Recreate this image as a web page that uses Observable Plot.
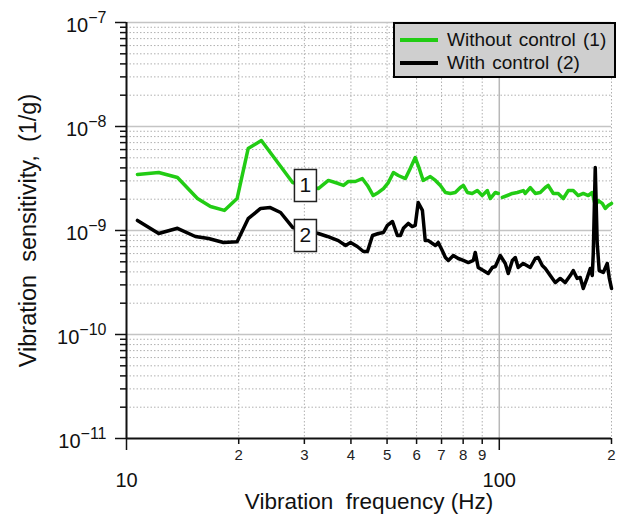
<!DOCTYPE html>
<html>
<head>
<meta charset="utf-8">
<script src="https://cdn.jsdelivr.net/npm/d3@7"></script>
<script src="https://cdn.jsdelivr.net/npm/@observablehq/plot@0.6"></script>
<style>
  html, body { margin: 0; padding: 0; background: #fff; }
  #wrap { position: relative; width: 621px; height: 517px; font-family: "Liberation Sans", Arial, sans-serif; }
  #wrap svg { position: absolute; left: 0; top: 0; }
  #legend { position: absolute; left: 393px; top: 22px; width: 219px; height: 52px;
            background: #cfcfcf; border: 2px solid #000; }
  .lg-row { position: absolute; left: 5px; height: 20px; display: flex; align-items: center;
            font-size: 19px; color: #111; white-space: nowrap; word-spacing: 2px; }
  .lg-sw { width: 38px; height: 3.5px; margin-right: 9px; }
</style>
</head>
<body>
<div id="wrap"><div id="chart"></div><div id="legend"></div></div>
<script>
// ---- data ----
// frequency in Hz, sensitivity in units of 1e-9 (1/g)
const freqWithout = [10.7,12.2,13.7,15.5,16.8,18.3,19.8,21.2,23.0,27.9,
  32.7,34.8,37.0,38.2,39.4,41.1,42.9,44.3,45.9,47.4,
  48.9,50.4,52.0,53.6,56.0,57.7,59.5,61.0,62.5,65.3,
  67.4,69.5,71.7,73.9,76.2,78.6,80.1,82.1,84.6,87.3,
  90.0,92.9,94.6,97.6,99.4,101.9,105.1,108.4,111.8,116.0,
  117.4,121.1,124.9,128.8,132.9,135.3,139.6,143.9,148.5,153.1,
  157.9,162.8,168.0,173.3,177.6,180.9,184.3,188.9,192.4,196.0,200];
const sensWithout = [3.46,3.61,3.23,2.03,1.70,1.56,2.03,6.14,7.33,2.89,
  2.53,3.03,2.83,2.71,2.96,2.96,3.16,2.71,2.17,2.32,
  2.53,2.89,3.61,3.38,3.16,3.95,5.03,3.95,3.03,3.3,
  3.03,2.71,2.32,2.27,2.32,2.59,2.71,2.32,2.27,2.42,
  2.17,2.42,2.03,2.32,2.27,2.08,2.17,2.27,2.32,2.42,
  2.27,2.59,2.27,2.32,2.59,2.71,2.27,2.27,2.03,2.42,
  2.42,2.17,2.27,2.17,2.32,1.74,1.94,1.82,1.63,1.74,1.82];

const freqWith = [10.7,12.2,13.7,15.3,16.6,18.2,19.8,21.2,22.9,24.3,
  25.9,27.9,32.7,34.6,37.0,38.7,39.9,41.6,43.2,44.3,
  45.7,47.4,48.9,50.1,51.7,53.3,54.3,55.3,57.0,58.4,
  59.5,60.6,62.2,63.3,64.5,67.4,68.6,70.3,71.7,73.0,
  75.3,77.6,80.1,82.6,85.2,86.2,87.8,90.6,93.4,95.8,
  97.6,100.6,103.8,105.7,108.4,110.4,112.4,116.0,121.1,124.9,
  127.2,130.4,132.9,137.0,141.3,145.7,150.3,155.0,157.9,161.8,
  164.9,168.0,172.2,175.4,177.6,178.7,180.9,183.1,185.4,190.1,
  194.8,197.2,200];
const sensWith = [1.25,0.936,1.05,0.876,0.838,0.767,0.78,1.30,1.63,1.66,
  1.49,1.07,0.936,0.876,0.80,0.718,0.767,0.702,0.628,0.628,
  0.895,0.936,0.957,1.12,1.22,0.895,0.895,1.05,1.17,1.09,
  1.12,1.86,1.56,0.80,0.80,0.718,0.767,0.642,0.550,0.515,
  0.575,0.538,0.515,0.492,0.515,0.615,0.441,0.412,0.386,0.441,
  0.451,0.575,0.482,0.386,0.515,0.550,0.441,0.482,0.441,0.538,
  0.550,0.461,0.431,0.369,0.316,0.346,0.316,0.369,0.412,0.346,
  0.353,0.277,0.353,0.431,0.369,0.601,4.04,0.750,0.412,0.395,
  0.482,0.353,0.277];

const seriesNames = ["Without control (1)", "With control (2)"];
const seriesColors = ["#22cc14", "#000000"];
const curveLabels = ["1", "2"];
const labelFreq = [30.2, 30.2];
const labelSens = [2.71, 0.895];
const measurementSplitHz = 100; // the "without control" trace has a break here

const xMajorTicks = [10, 100];
const xMinorTicks = [20, 30, 40, 50, 60, 70, 80, 90, 200];
const xMinorLabels = ["2", "3", "4", "5", "6", "7", "8", "9", "2"];
const yMajorTicks = [1e-11, 1e-10, 1e-9, 1e-8, 1e-7];
const xLabel = "Vibration  frequency (Hz)";
const yLabel = "Vibration  sensitivity,  (1/g)";

// ---- build tables ----
const NANO = 1e-9;
const without = freqWithout.map((f, i) => ({f, v: sensWithout[i] * NANO, seg: f < measurementSplitHz ? "a" : "b"}));
const withc = freqWith.map((f, i) => ({f, v: sensWith[i] * NANO}));
const labels = curveLabels.map((t, i) => ({t, f: labelFreq[i], v: labelSens[i] * NANO}));
const xMinorTable = xMinorTicks.map((f, i) => ({f, t: xMinorLabels[i]}));
const yMinorTicks = [];
for (let e = -11; e < -7; e++) for (let k = 2; k <= 9; k++) yMinorTicks.push(k * Math.pow(10, e));
const xMinorGrid = xMinorTicks.filter(d => d < 100);

// rectangular label box symbol
const boxSymbol = {draw(ctx) { ctx.moveTo(-11, -16); ctx.lineTo(11, -16); ctx.lineTo(11, 16); ctx.lineTo(-11, 16); ctx.closePath(); }};

const font = "'Liberation Sans', Arial, sans-serif";

const svg = Plot.plot({
  width: 621, height: 517,
  marginLeft: 126, marginRight: 10, marginTop: 22, marginBottom: 79,
  style: {fontFamily: font, background: "#fff", color: "#111", overflow: "visible"},
  x: {type: "log", domain: [10, 200], label: null},
  y: {type: "log", domain: [1e-11, 1e-7], label: null},
  symbol: {type: "identity"},
  marks: [
    // minor dotted grid
    Plot.ruleY(yMinorTicks, {stroke: "#b0b0b0", strokeWidth: 1, strokeDasharray: "1.5,2"}),
    Plot.ruleX(xMinorGrid, {stroke: "#b0b0b0", strokeWidth: 1, strokeDasharray: "1.5,2"}),
    Plot.ruleX([200], {stroke: "#b0b0b0", strokeWidth: 1, strokeDasharray: "1.5,2"}),
    // major solid grid
    Plot.ruleY([1e-10, 1e-9, 1e-8, 1e-7], {stroke: "#c4c4c4", strokeWidth: 1.5}),
    Plot.ruleX([100], {stroke: "#b8b8b8", strokeWidth: 1.5}),
    // data
    Plot.line(without, {x: "f", y: "v", z: "seg", stroke: seriesColors[0], strokeWidth: 3.5, strokeLinejoin: "round"}),
    Plot.line(withc, {x: "f", y: "v", stroke: seriesColors[1], strokeWidth: 3.5, strokeLinejoin: "round"}),
    // curve labels in boxes
    Plot.dot(labels, {x: "f", y: "v", symbol: () => boxSymbol, fill: "#fff", stroke: "#222", strokeWidth: 1.5}),
    Plot.text(labels, {x: "f", y: "v", text: "t", fontSize: 21, fill: "#111"}),
    // axis lines
    Plot.ruleX([10], {stroke: "#111", strokeWidth: 2}),
    Plot.ruleY([1e-11], {stroke: "#111", strokeWidth: 2}),
    // y ticks
    Plot.axisY(yMinorTicks, {tickSize: 6, tickFormat: () => "", strokeWidth: 1.5}),
    Plot.axisY(yMajorTicks, {tickSize: 11, tickPadding: 9, fontSize: 20, strokeWidth: 1.5,
      tickFormat: d => String(Math.round(Math.log10(d)))}),
    // x ticks
    Plot.axisX(xMinorTicks, {tickSize: 6, tickFormat: () => "", strokeWidth: 1.5}),
    Plot.text(xMinorTable, {x: "f", text: "t", frameAnchor: "bottom", dy: 21, fontSize: 15, fill: "#222"}),
    Plot.axisX(xMajorTicks, {tickSize: 12, tickPadding: 22, fontSize: 20, strokeWidth: 1.5,
      tickFormat: d => String(d)}),
    // axis titles
    Plot.text([xLabel], {frameAnchor: "bottom", dy: 70, fontSize: 22.5, fill: "#111"}),
    Plot.text([yLabel], {frameAnchor: "left", textAnchor: "middle", dx: -98, rotate: -90, fontSize: 23.5, fill: "#111"})
  ]
});

document.getElementById("chart").append(svg);

// superscript exponents on y tick labels
d3.select(svg).selectAll("text").each(function() {
  const t = this.textContent;
  if (/^-\d+$/.test(t) && this.closest('g[aria-label="y-axis tick label"]')) {
    const sel = d3.select(this);
    sel.text("");
    sel.append("tspan").attr("dy", "3px").text("10");
    sel.append("tspan").attr("dy", "-9px").attr("font-size", "16px").text("\u2212" + t.slice(1));
  }
});

// legend
const lg = document.getElementById("legend");
seriesNames.forEach((name, i) => {
  const row = document.createElement("div");
  row.className = "lg-row";
  row.style.top = (i === 0 ? 6 : 29) + "px";
  const sw = document.createElement("div");
  sw.className = "lg-sw";
  sw.style.background = seriesColors[i];
  row.append(sw, document.createTextNode(name));
  lg.append(row);
});
</script>
</body>
</html>
